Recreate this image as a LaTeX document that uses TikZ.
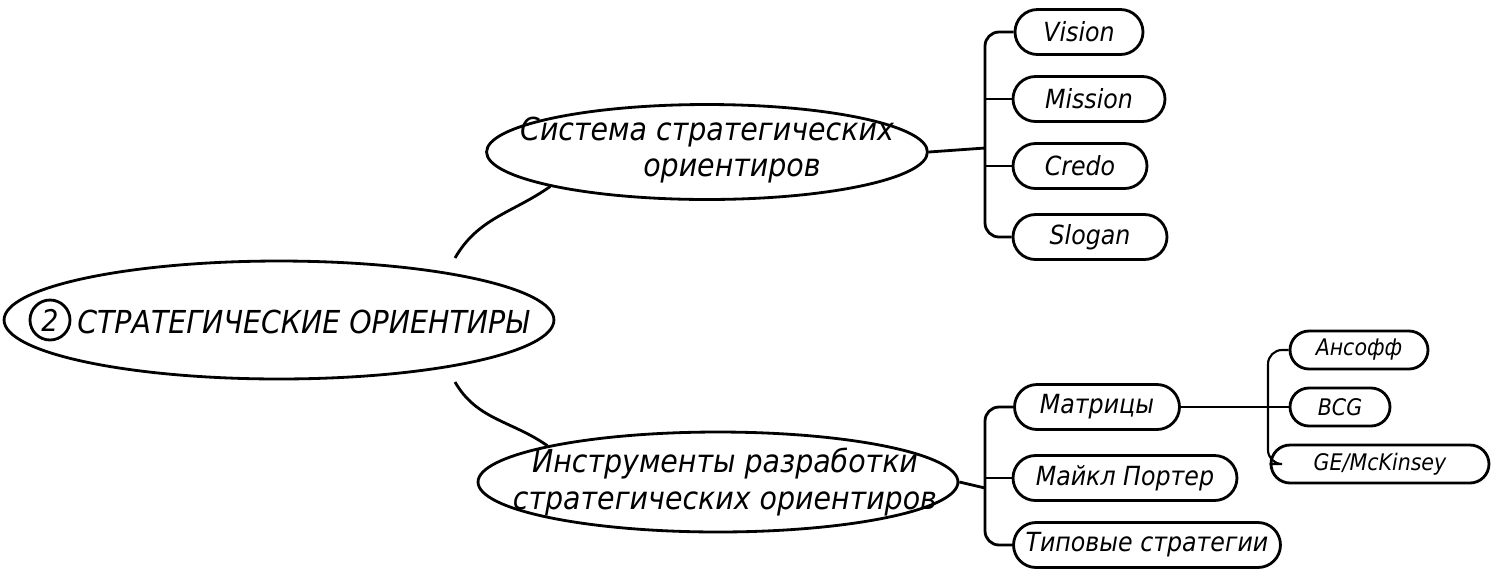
\documentclass[tikz,border=0pt]{standalone}
\usepackage{fontspec}
\setmainfont{DejaVu Sans Condensed}
\usetikzlibrary{shapes.geometric,shapes.misc}
\begin{document}
\begin{tikzpicture}[x=0.02cm,y=-0.02cm,line width=1.6pt,
  ell/.style={draw,ellipse,inner sep=0pt},
  etext/.style={font=\itshape\fontsize{18}{21}\selectfont,align=center},
  pill/.style={draw,rounded rectangle,inner sep=0pt,minimum height=0.9cm,font=\itshape\fontsize{15}{18}\selectfont},
  spill/.style={draw,rounded rectangle,inner sep=0pt,minimum height=0.76cm,font=\itshape\fontsize{13}{16}\selectfont},
  lnk/.style={draw,rounded corners=8pt}]
\useasboundingbox (0,0) rectangle (1492,576);
\node[ell,minimum width=11cm,minimum height=2.36cm] (main) at (279,320) {};
\node[draw,circle,inner sep=1pt,minimum size=0.8cm,font=\itshape\fontsize{17}{20}\selectfont] (two) at (50,320) {2};
\node[anchor=west,font=\itshape\fontsize{18}{22}\selectfont] (mt) at (70,322) {СТРАТЕГИЧЕСКИЕ ОРИЕНТИРЫ};
\node[ell,minimum width=8.82cm,minimum height=1.9cm] (up) at (707,152) {};
\node[etext] (upt) at (707,150) {Система стратегических\\\hspace*{1cm}ориентиров};
\node[ell,minimum width=9.6cm,minimum height=2cm] (lo) at (718,482) {};
\node[etext] (lot) at (725,482) {Инструменты разработки\\стратегических ориентиров};
\draw (455,258) to[out=60,in=215] (up.south west);
\draw (455,382) to[out=-60,in=145] (lo.north west);
\node[pill,minimum width=2.56cm] (v) at (1079,32) {Vision};
\node[pill,minimum width=3.04cm] (m) at (1089,99) {Mission};
\node[pill,minimum width=2.68cm] (c) at (1080,166) {Credo};
\node[pill,minimum width=3.08cm] (s) at (1090,237) {Slogan};
\coordinate (bu) at (985,148);
\draw (up.east) -- (bu);
\draw[lnk] (v.west) -| (bu) |- (s.west);
\draw (m.west) -- (m.west -| bu);
\draw (c.west) -- (c.west -| bu);
\node[pill,minimum width=3.3cm] (mx) at (1097,407) {Матрицы};
\node[pill,minimum width=4.48cm] (p) at (1125,478) {Майкл Портер};
\node[pill,minimum width=5.34cm] (t) at (1147,545) {Типовые стратегии};
\coordinate (bl) at (985,488);
\draw (lo.east) -- (bl);
\draw[lnk] (mx.west) -| (bl) |- (t.west);
\draw (p.west) -- (p.west -| bl);
\node[spill,minimum width=2.76cm] (an) at (1359,350) {Ансофф};
\node[spill,minimum width=2cm] (b) at (1340,407) {BCG};
\node[spill,minimum width=4.36cm] (ge) at (1380,464) {GE/McKinsey};
\coordinate (bm) at (1268,407);
\draw[line width=1.2pt] (mx.east) -- (b.west);
\draw[lnk,line width=1.2pt] (an.west) -| (bm) |- (ge.west);
\end{tikzpicture}
\end{document}
